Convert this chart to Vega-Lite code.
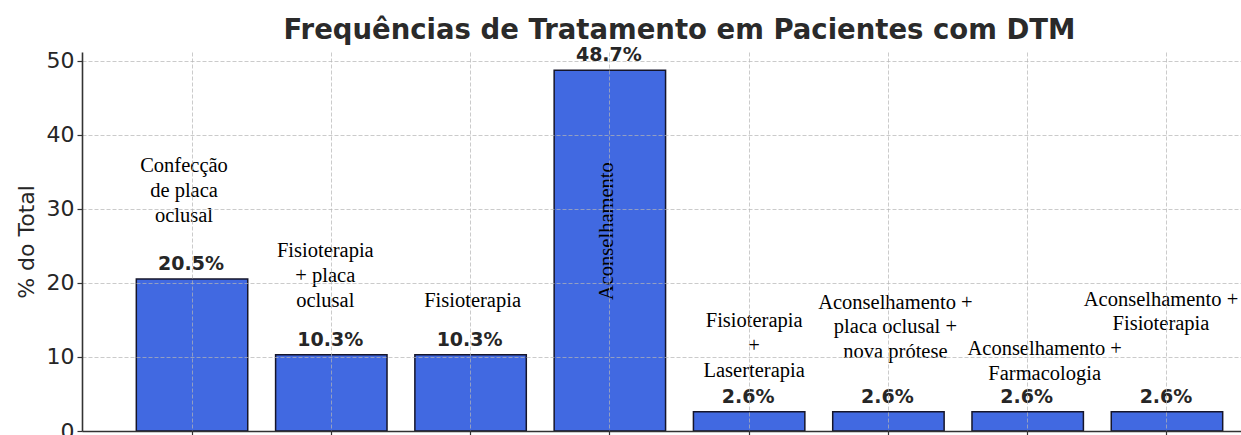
{
  "$schema": "https://vega.github.io/schema/vega-lite/v6.json",
  "autosize": "none",
  "width": 1159,
  "height": 379,
  "padding": {"left": 82, "top": 52, "right": 0, "bottom": 4},
  "background": "white",
  "title": {
    "text": "Frequências de Tratamento em Pacientes com DTM",
    "font": "DejaVu Sans",
    "fontSize": 27.5,
    "fontWeight": "bold",
    "color": "#2a2a2a",
    "anchor": "middle",
    "dx": 18,
    "offset": 2
  },
  "config": {"view": {"stroke": null}},
  "data": {
    "values": [
      {"tratamento": "Confecção de placa oclusal", "pct": 20.5, "rotulo": "Confecção\nde placa\noclusal"},
      {"tratamento": "Fisioterapia + placa oclusal", "pct": 10.3, "rotulo": "Fisioterapia\n+ placa\noclusal"},
      {"tratamento": "Fisioterapia", "pct": 10.3, "rotulo": "Fisioterapia"},
      {"tratamento": "Aconselhamento", "pct": 48.7, "rotulo": "Aconselhamento"},
      {"tratamento": "Fisioterapia + Laserterapia", "pct": 2.6, "rotulo": "Fisioterapia\n+\nLaserterapia"},
      {"tratamento": "Aconselhamento + placa oclusal + nova prótese", "pct": 2.6, "rotulo": "Aconselhamento +\nplaca oclusal +\nnova prótese"},
      {"tratamento": "Aconselhamento + Farmacologia", "pct": 2.6, "rotulo": "Aconselhamento +\nFarmacologia"},
      {"tratamento": "Aconselhamento + Fisioterapia", "pct": 2.6, "rotulo": "Aconselhamento +\nFisioterapia"}
    ]
  },
  "encoding": {
    "x": {
      "field": "tratamento",
      "type": "nominal",
      "sort": null,
      "scale": {"range": [0, 1195], "paddingInner": 0.2, "paddingOuter": 0.39},
      "axis": {
        "title": null,
        "labels": false,
        "ticks": true,
        "tickSize": 5,
        "tickColor": "#333333",
        "tickWidth": 1.2,
        "domain": true,
        "domainColor": "#333333",
        "domainWidth": 1.6,
        "grid": true,
        "gridColor": "#b5b5b5",
        "gridOpacity": 0.7,
        "gridDash": [4, 2],
        "gridWidth": 1,
        "zindex": 1
      }
    },
    "y": {
      "field": "pct",
      "type": "quantitative",
      "scale": {"domain": [0, 51.15], "nice": false, "zero": true},
      "axis": {
        "title": "% do Total",
        "titleFont": "DejaVu Sans",
        "titleFontSize": 22,
        "titleFontWeight": "normal",
        "titleColor": "#262626",
        "titlePadding": 8,
        "values": [0, 10, 20, 30, 40, 50],
        "labelFont": "DejaVu Sans",
        "labelFontSize": 22,
        "labelColor": "#262626",
        "labelPadding": 3,
        "tickSize": 5,
        "tickColor": "#333333",
        "tickWidth": 1.2,
        "domain": true,
        "domainColor": "#333333",
        "domainWidth": 1.6,
        "grid": true,
        "gridColor": "#b5b5b5",
        "gridOpacity": 0.7,
        "gridDash": [4, 2],
        "gridWidth": 1,
        "zindex": 1
      }
    }
  },
  "layer": [
    {
      "mark": {"type": "bar", "color": "#4169E1", "stroke": "#15152a", "strokeWidth": 1.5}
    },
    {
      "transform": [{"calculate": "format(datum.pct, '.1f') + '%'", "as": "pct_txt"}],
      "mark": {"type": "text", "font": "DejaVu Sans", "fontSize": 19, "fontWeight": "bold", "color": "#262626", "align": "center", "baseline": "alphabetic", "dy": -9, "dx": -1},
      "encoding": {"text": {"field": "pct_txt"}}
    },
    {
      "transform": [{"filter": "datum.tratamento == 'Confecção de placa oclusal'"}],
      "mark": {"type": "text", "font": "Liberation Serif", "fontSize": 20.5, "color": "black", "align": "center", "baseline": "alphabetic", "lineBreak": "\n", "lineHeight": 25, "dx": -8, "dy": -107},
      "encoding": {"text": {"field": "rotulo"}}
    },
    {
      "transform": [{"filter": "datum.tratamento == 'Fisioterapia + placa oclusal'"}],
      "mark": {"type": "text", "font": "Liberation Serif", "fontSize": 20.5, "color": "black", "align": "center", "baseline": "alphabetic", "lineBreak": "\n", "lineHeight": 25, "dx": -6, "dy": -98},
      "encoding": {"text": {"field": "rotulo"}}
    },
    {
      "transform": [{"filter": "datum.tratamento == 'Fisioterapia'"}],
      "mark": {"type": "text", "font": "Liberation Serif", "fontSize": 20.5, "color": "black", "align": "center", "baseline": "alphabetic", "lineBreak": "\n", "lineHeight": 25, "dx": 2, "dy": -48},
      "encoding": {"text": {"field": "rotulo"}}
    },
    {
      "transform": [{"filter": "datum.tratamento == 'Aconselhamento'"}],
      "mark": {"type": "text", "font": "Liberation Serif", "fontSize": 20.5, "color": "black", "align": "center", "baseline": "middle", "angle": 270, "dx": -161, "dy": -3},
      "encoding": {"text": {"field": "rotulo"}}
    },
    {
      "transform": [{"filter": "datum.tratamento == 'Fisioterapia + Laserterapia'"}],
      "mark": {"type": "text", "font": "Liberation Serif", "fontSize": 20.5, "color": "black", "align": "center", "baseline": "alphabetic", "lineBreak": "\n", "lineHeight": 25, "dx": 5, "dy": -85},
      "encoding": {"text": {"field": "rotulo"}}
    },
    {
      "transform": [{"filter": "datum.tratamento == 'Aconselhamento + placa oclusal + nova prótese'"}],
      "mark": {"type": "text", "font": "Liberation Serif", "fontSize": 20.5, "color": "black", "align": "center", "baseline": "alphabetic", "lineBreak": "\n", "lineHeight": 24.5, "dx": 7, "dy": -103},
      "encoding": {"text": {"field": "rotulo"}}
    },
    {
      "transform": [{"filter": "datum.tratamento == 'Aconselhamento + Farmacologia'"}],
      "mark": {"type": "text", "font": "Liberation Serif", "fontSize": 20.5, "color": "black", "align": "center", "baseline": "alphabetic", "lineBreak": "\n", "lineHeight": 25, "dx": 17, "dy": -57},
      "encoding": {"text": {"field": "rotulo"}}
    },
    {
      "transform": [{"filter": "datum.tratamento == 'Aconselhamento + Fisioterapia'"}],
      "mark": {"type": "text", "font": "Liberation Serif", "fontSize": 20.5, "color": "black", "align": "center", "baseline": "alphabetic", "lineBreak": "\n", "lineHeight": 24.5, "dx": -6, "dy": -106},
      "encoding": {"text": {"field": "rotulo"}}
    }
  ]
}
